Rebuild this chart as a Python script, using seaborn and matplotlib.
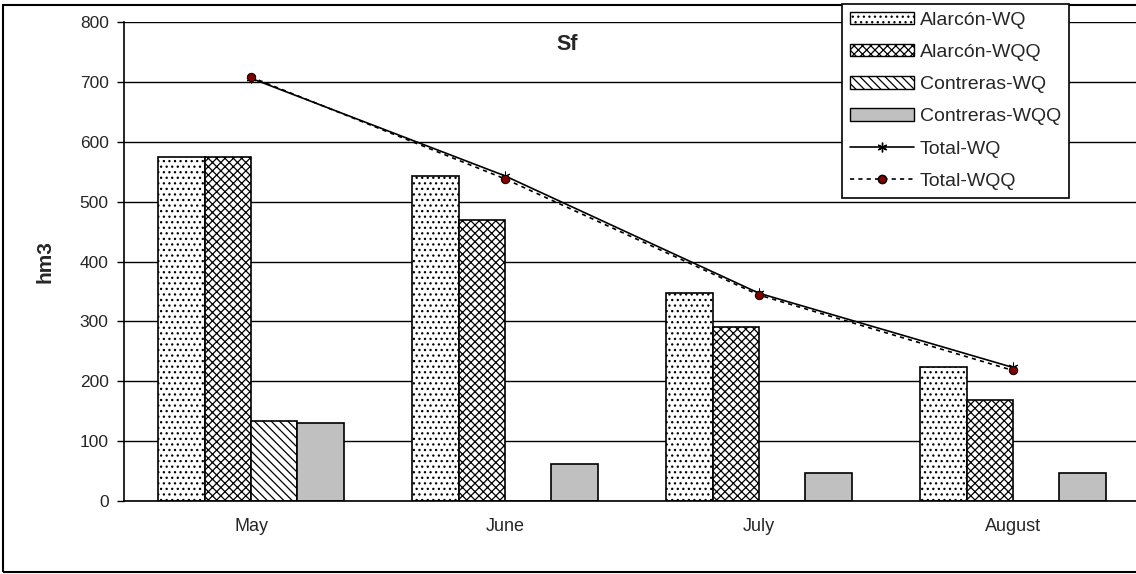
import numpy as np
import pandas as pd
import matplotlib
matplotlib.use("Agg")
import matplotlib.pyplot as plt
import seaborn as sns
from matplotlib.patches import Patch, Rectangle
from matplotlib.lines import Line2D

# values (hm3)
months = ["May", "June", "July", "August"]
alarcon_wq = [574, 543, 347, 224]
alarcon_wqq = [575, 469, 291, 169]
contreras_wq = [133, 0, 0, 0]
contreras_wqq = [131, 62, 46, 46]
total_wq = [706, 543, 347, 223]
total_wqq = [708, 538, 344, 218]

series_names = ["Alarcón-WQ", "Alarcón-WQQ", "Contreras-WQ", "Contreras-WQQ"]
series_colors = ["white", "white", "white", "#C0C0C0"]
series_hatches = ["...", "xxxx", "\\\\\\\\", ""]

sns.set_style("white")
plt.rcParams["font.family"] = ["Liberation Sans", "DejaVu Sans"]
plt.rcParams["hatch.linewidth"] = 0.9

# long-form table for seaborn
rows = []
for name, vals in zip(series_names, [alarcon_wq, alarcon_wqq, contreras_wq, contreras_wqq]):
    for m, v in zip(months, vals):
        rows.append({"month": m, "series": name, "value": v})
df = pd.DataFrame(rows)

fig = plt.figure(figsize=(11.36, 5.74), dpi=100)
ax = fig.add_axes([124 / 1136, 73 / 574, 1016 / 1136, 479 / 574])

sns.barplot(data=df, x="month", y="value", hue="series", order=months,
            hue_order=series_names, palette=series_colors, width=0.732,
            gap=0, edgecolor="black", linewidth=1.2, saturation=1,
            legend=False, ax=ax)

for container, hatch in zip(ax.containers, series_hatches):
    for bar in container:
        bar.set_hatch(hatch)
        bar.set_edgecolor("black")

x_pos = np.arange(len(months))
sns.lineplot(x=x_pos, y=total_wq, color="black", linewidth=1.2,
             marker=(6, 2, 0), markersize=7, markeredgecolor="black",
             ax=ax, legend=False, zorder=4)
sns.lineplot(x=x_pos, y=total_wqq, color="black", linewidth=1.2,
             linestyle=(0, (2.5, 2.5)), marker="o", markersize=6,
             markerfacecolor="#800000", markeredgecolor="black",
             ax=ax, legend=False, zorder=5)

ax.set_xlim(-0.5, 3.5)
ax.set_ylim(0, 800)
ax.set_yticks(range(0, 801, 100))
ax.set_xticks([-0.5, 0.5, 1.5, 2.5, 3.5])
ax.set_xticklabels([])
ax.set_xticks(x_pos, minor=True)
ax.set_xticklabels(months, minor=True)
ax.tick_params(axis="x", which="major", length=5, width=1, direction="out", color="black")
ax.tick_params(axis="x", which="minor", length=0, pad=12, labelsize=13)
ax.tick_params(axis="y", length=5, width=1, direction="out", color="black",
               pad=6, labelsize=12.5, left=True)
ax.set_xlabel("")
ax.set_ylabel("")
ax.yaxis.grid(True, color="black", linewidth=1)
ax.set_axisbelow(True)
for side in ["top", "right"]:
    ax.spines[side].set_visible(False)
for side in ["left", "bottom"]:
    ax.spines[side].set_color("black")
    ax.spines[side].set_linewidth(1.2)

fig.text(567 / 1136, 1 - 44 / 574, "Sf", ha="center", va="center",
         fontsize=15.5, fontweight="bold")
fig.text(45 / 1136, 1 - 262 / 574, "hm3", ha="center", va="center",
         rotation=90, fontsize=15, fontweight="bold")

# frame round the whole chart (right side runs off the picture)
fig.add_artist(Rectangle((3 / 1136, 2 / 574), 1.2, 1 - 7 / 574,
                         transform=fig.transFigure, fill=False,
                         edgecolor="black", linewidth=1.5, zorder=0))

handles = [Patch(facecolor=c, edgecolor="black", hatch=h, linewidth=1.0)
           for c, h in zip(series_colors, series_hatches)]
handles.append(Line2D([], [], color="black", linewidth=1.2,
                      marker=(6, 2, 0), markersize=7))
handles.append(Line2D([], [], color="black", linewidth=1.2,
                      linestyle=(0, (2.5, 2.5)), marker="o", markersize=6,
                      markerfacecolor="#800000", markeredgecolor="black"))
labels = series_names + ["Total-WQ", "Total-WQQ"]
leg = fig.legend(handles, labels, loc="upper left",
                 bbox_to_anchor=(842 / 1136, 1 - 4 / 574),
                 fontsize=14, frameon=True, fancybox=False, shadow=False,
                 handlelength=3.3, handleheight=0.6, handletextpad=0.3,
                 labelspacing=0.78, borderpad=0.4, borderaxespad=0)
leg.get_frame().set_edgecolor("black")
leg.get_frame().set_linewidth(1.2)
leg.get_frame().set_alpha(1)
leg.set_zorder(10)

fig.savefig("out.png", dpi=100)
